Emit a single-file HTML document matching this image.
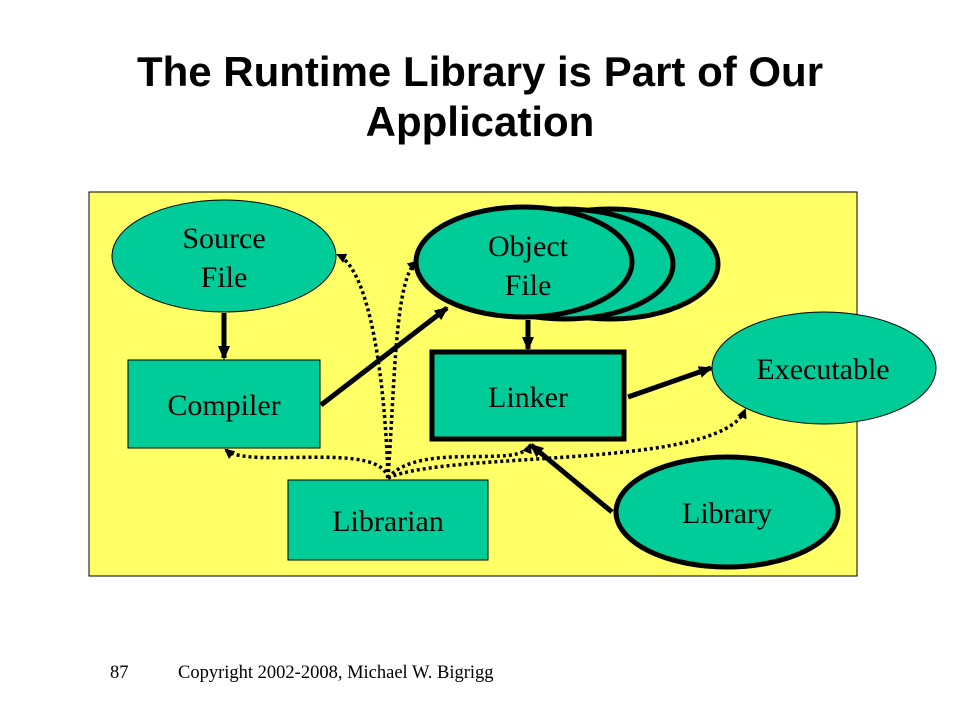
<!DOCTYPE html>
<html><head><style>
body{margin:0;width:960px;height:720px;background:#fff;overflow:hidden;position:relative}
.t{position:absolute;left:0;width:960px;text-align:center;font:bold 42px "Liberation Sans",sans-serif;line-height:50px;top:47px}
.f{position:absolute;top:663px;font:18.5px "Liberation Serif",serif}
</style></head><body>
<div class="t">The Runtime Library is Part of Our<br>Application</div>
<svg width="960" height="720" style="position:absolute;left:0;top:0" font-family="Liberation Serif, serif" font-size="30">
<defs>
<marker id="a" markerUnits="userSpaceOnUse" markerWidth="14" markerHeight="12" refX="12" refY="6" orient="auto"><path d="M0,0L14,6L0,12z" fill="#000"/></marker>
<marker id="d" markerUnits="userSpaceOnUse" markerWidth="10" markerHeight="10" refX="8" refY="5" orient="auto"><path d="M0,0L10,5L0,10z" fill="#000"/></marker>
</defs>
<rect x="89" y="192" width="768" height="384" fill="#FFFF66" stroke="#000" stroke-width="1"/>
<g fill="none" stroke="#000" stroke-width="3.5" stroke-dasharray="3,3">
<path d="M388,478 C380,440 250,470 226,450" marker-end="url(#d)"/>
<path d="M388,478 C385,380 370,270 338,255" marker-end="url(#d)"/>
<path d="M388,478 C395,380 395,280 416,262" marker-end="url(#d)"/>
<path d="M388,478 C420,440 520,470 530,445" marker-end="url(#d)"/>
<path d="M388,478 C450,450 720,470 745,410" marker-end="url(#d)"/>
</g>
<ellipse cx="224" cy="256" rx="112" ry="56" fill="#00CC99" stroke="#000" stroke-width="1"/>
<text x="224" y="248" text-anchor="middle">Source</text><text x="224" y="287" text-anchor="middle">File</text>
<rect x="128" y="360" width="192" height="88" fill="#00CC99" stroke="#000" stroke-width="1"/>
<text x="224" y="415" text-anchor="middle">Compiler</text>
<rect x="288" y="480" width="200" height="80" fill="#00CC99" stroke="#000" stroke-width="1"/>
<text x="388" y="531" text-anchor="middle">Librarian</text>
<g fill="#00CC99" stroke="#000" stroke-width="5">
<ellipse cx="610" cy="264" rx="108" ry="55"/>
<ellipse cx="565" cy="264" rx="108" ry="55"/>
<ellipse cx="524" cy="262" rx="108" ry="55"/>
<rect x="432" y="352" width="192" height="87"/>
<ellipse cx="727" cy="512" rx="111" ry="55"/>
</g>
<text x="528" y="256" text-anchor="middle">Object</text><text x="528" y="295" text-anchor="middle">File</text>
<text x="528" y="407" text-anchor="middle">Linker</text>
<text x="727" y="523" text-anchor="middle">Library</text>
<ellipse cx="824" cy="368" rx="112" ry="56" fill="#00CC99" stroke="#000" stroke-width="1"/>
<text x="823" y="379" text-anchor="middle">Executable</text>
<g stroke="#000" stroke-width="5" fill="none">
<line x1="224" y1="313" x2="224" y2="358" marker-end="url(#a)"/>
<line x1="321" y1="405" x2="447" y2="308" marker-end="url(#a)"/>
<line x1="528" y1="320" x2="528" y2="349" marker-end="url(#a)"/>
<line x1="628" y1="397" x2="711" y2="368" marker-end="url(#a)"/>
<line x1="612" y1="512" x2="531" y2="445" marker-end="url(#a)"/>
</g>
</svg>
<div class="f" style="left:110px">87</div>
<div class="f" style="left:178px">Copyright 2002-2008, Michael W. Bigrigg</div>
</body></html>
